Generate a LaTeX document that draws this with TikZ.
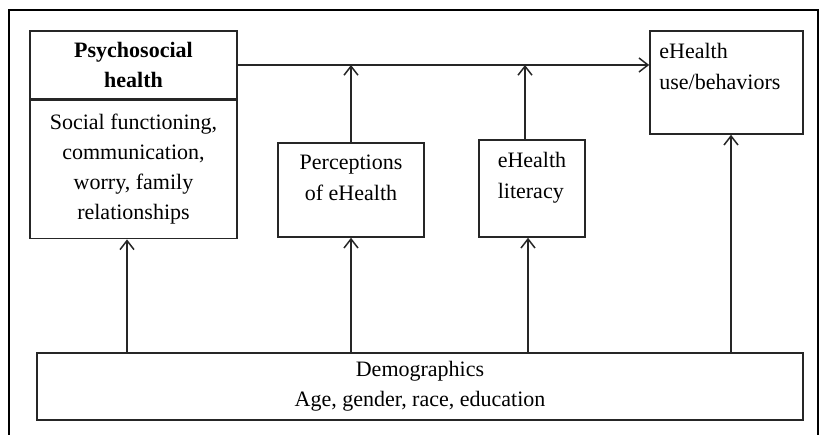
\documentclass[tikz,border=0pt]{standalone}
\usepackage{fontspec}
\setmainfont{Liberation Serif}
\usetikzlibrary{arrows.meta, positioning}

\begin{document}
\begin{tikzpicture}[
  x = 1pt, y = 1pt,
  node distance    = 0pt,
  %--- style definitions ---
  box/.style       = {rectangle, draw=black!85, line width=1.6pt, inner sep=0pt,
                      align=center, font=\fontsize{22}{30}\selectfont},
  txt/.style       = {inner sep=0pt, font=\fontsize{22}{31}\selectfont},
  arrow/.style     = {-{Straight Barb[length=9pt,width=14pt]}, line width=1.5pt, color=black!85},
  frame/.style     = {draw=black, line width=2.2pt},
]

\useasboundingbox (0,0) rectangle (826,435);
\draw[frame] (9,-5) rectangle (818,425);

%% ── LEFT : PSYCHOSOCIAL HEALTH ─────────────────────────────────────────────
\node[box, minimum width=207pt, minimum height=68pt, font=\fontsize{22}{30}\selectfont\bfseries]
      (psy) at (133.5,370) {Psychosocial\\health};
\node[box, minimum width=207pt, minimum height=138pt, below=0pt of psy]  (psyb)
      {Social functioning,\\communication,\\worry, family\\relationships};

%% ── MIDDLE : PERCEPTIONS / LITERACY ────────────────────────────────────────
\node[box, minimum width=146pt, minimum height=94pt]  (perc) at (351,245) {};
\node[txt, align=center, below=12.5pt of perc.north]  (perct) {Perceptions\\of eHealth};

\node[box, minimum width=106pt, minimum height=97pt]  (lit) at (532,246.5) {};
\node[txt, align=left, below=12.5pt of lit.north]  (litt) {eHealth\\literacy};

%% ── RIGHT : OUTCOME ────────────────────────────────────────────────────────
\node[box, minimum width=153pt, minimum height=103pt]  (use) at (726.5,352.5) {};
\node[txt, align=left, below right=12.5pt and 10pt of use.north west]  (uset)
      {eHealth\\use/behaviors};

%% ── BOTTOM : DEMOGRAPHICS ──────────────────────────────────────────────────
\node[box, minimum width=766pt, minimum height=67pt]  (demo) at (420,48.5)
      {Demographics\\Age, gender, race, education};

%% ── ARROWS ─────────────────────────────────────────────────────────────────
\draw[arrow] (psy.east) -- (psy.east -| use.west);
\draw[arrow] (perc.north) -- (perc.north |- psy.east);
\draw[arrow] ([xshift=-7pt]lit.north) -- ([xshift=-7pt]lit.north |- psy.east);

% demographics feed every box
\draw[arrow] ([xshift=-6.5pt]psyb.south |- demo.north) -- ([xshift=-6.5pt]psyb.south);
\draw[arrow] (perc.south |- demo.north) -- (perc.south);
\draw[arrow] ([xshift=-4pt]lit.south |- demo.north) -- ([xshift=-4pt]lit.south);
\draw[arrow] ([xshift=4.5pt]use.south |- demo.north) -- ([xshift=4.5pt]use.south);

\end{tikzpicture}
\end{document}
